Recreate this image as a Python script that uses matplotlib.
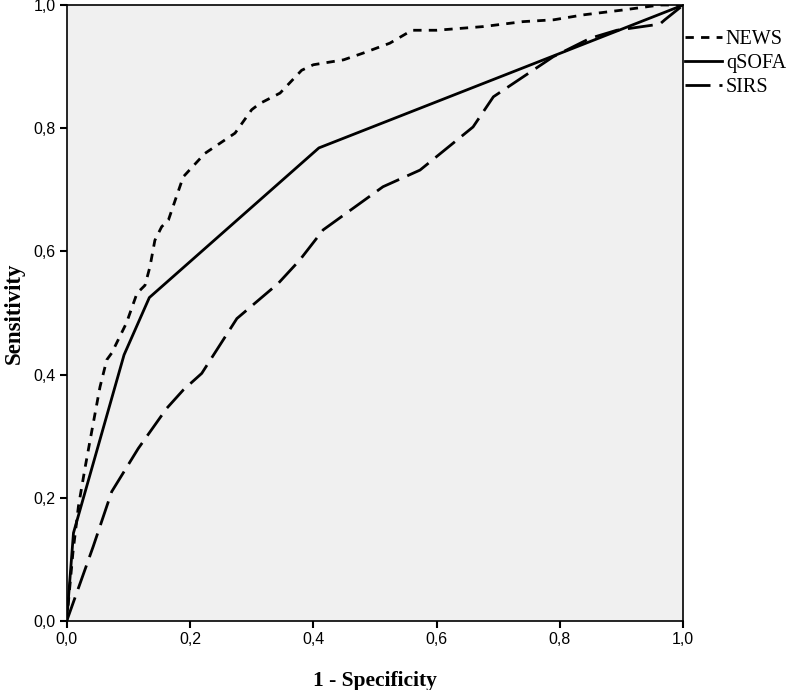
import matplotlib
matplotlib.use("Agg")
import matplotlib.pyplot as plt

# ROC curve data (1 - specificity, sensitivity)
news_x = [0.0, 0.010, 0.019, 0.030, 0.041, 0.054, 0.065, 0.073, 0.097, 0.114, 0.127,
          0.135, 0.143, 0.154, 0.165, 0.178, 0.189, 0.224, 0.273, 0.300, 0.313,
          0.346, 0.381, 0.400, 0.449, 0.481, 0.524, 0.560, 0.600, 0.676, 0.740,
          0.790, 0.838, 0.903, 0.962, 1.0]
news_y = [0.0, 0.110, 0.186, 0.250, 0.310, 0.380, 0.424, 0.435, 0.484, 0.532, 0.545,
          0.575, 0.618, 0.640, 0.651, 0.689, 0.721, 0.759, 0.792, 0.830, 0.840,
          0.857, 0.894, 0.903, 0.911, 0.922, 0.938, 0.959, 0.959, 0.965, 0.973,
          0.976, 0.984, 0.992, 1.0, 1.0]

qsofa_x = [0.0, 0.011, 0.093, 0.134, 0.409, 1.0]
qsofa_y = [0.0, 0.143, 0.432, 0.525, 0.768, 1.0]

sirs_x = [0.0, 0.043, 0.073, 0.116, 0.162, 0.189, 0.219, 0.276, 0.343, 0.378, 0.416,
          0.513, 0.573, 0.659, 0.692, 0.789, 0.849, 0.892, 0.962, 0.970, 1.0]
sirs_y = [0.0, 0.121, 0.210, 0.280, 0.345, 0.375, 0.402, 0.491, 0.548, 0.586, 0.635,
          0.705, 0.732, 0.802, 0.851, 0.916, 0.946, 0.959, 0.969, 0.976, 1.0]

labels = ["NEWS", "qSOFA", "SIRS"]
ticks = [0.0, 0.2, 0.4, 0.6, 0.8, 1.0]
tick_labels = ["0,0", "0,2", "0,4", "0,6", "0,8", "1,0"]

fig = plt.figure(figsize=(7.96, 6.9), dpi=100)
ax = fig.add_axes([66.7 / 796, 69 / 690, 616.6 / 796, 616 / 690])
ax.set_facecolor("#f0f0f0")

lw = 2.0
l1, = ax.plot(news_x, news_y, color="black", lw=lw, label=labels[0])
l1.set_dashes([3.0, 2.6])
l2, = ax.plot(qsofa_x, qsofa_y, color="black", lw=lw, label=labels[1])
l3, = ax.plot(sirs_x, sirs_y, color="black", lw=lw, label=labels[2])
l3.set_dashes([9.0, 3.2])

ax.set_xlim(0, 1)
ax.set_ylim(0, 1)
ax.set_xticks(ticks)
ax.set_xticklabels(tick_labels)
ax.set_yticks(ticks)
ax.set_yticklabels(tick_labels)
for lab in ax.get_xticklabels() + ax.get_yticklabels():
    lab.set_fontfamily("Liberation Sans")
    lab.set_fontsize(11.5)
ax.tick_params(direction="out", length=5, width=1.5, colors="black", pad=3)
for s in ax.spines.values():
    s.set_linewidth(1.2)
    s.set_color("black")

ax.set_xlabel("1 - Specificity", fontfamily="Liberation Serif", fontweight="bold",
              fontsize=15.5, labelpad=17)
ax.set_ylabel("Sensitivity", fontfamily="Liberation Serif", fontweight="bold",
              fontsize=16.5, labelpad=6)

leg = ax.legend(loc="upper left", bbox_to_anchor=(1.002, 0.96), frameon=False,
                prop={"family": "Liberation Serif", "size": 14.5},
                handlelength=1.85, handletextpad=0.2, borderpad=0,
                borderaxespad=0, labelspacing=0.25)

fig.savefig("out.png", dpi=100)
